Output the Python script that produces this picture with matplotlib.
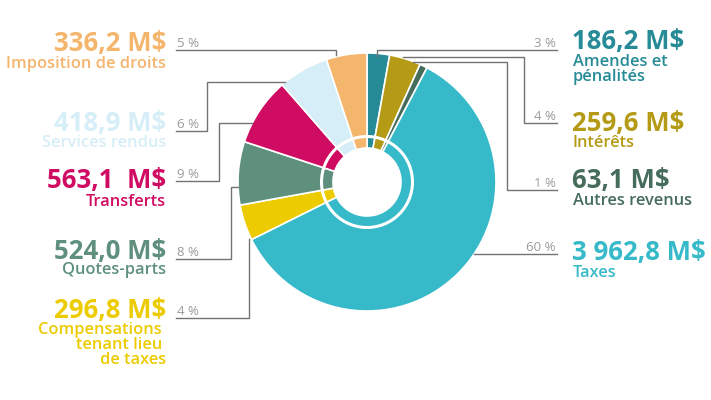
import numpy as np
import matplotlib.pyplot as plt
from matplotlib.patches import Circle

plt.rcParams['font.family'] = ['Open Sans', 'DejaVu Sans']

# data
labels = ['Amendes et\npénalités', 'Intérêts', 'Autres revenus', 'Taxes',
          'Compensations\ntenant lieu\nde taxes', 'Quotes-parts', 'Transferts',
          'Services rendus', 'Imposition de droits']
values = [186.2, 259.6, 63.1, 3962.8, 296.8, 524.0, 563.1, 418.9, 336.2]
amounts = ['186,2 M$', '259,6 M$', '63,1 M$', '3 962,8 M$', '296,8 M$',
           '524,0 M$', '563,1  M$', '418,9 M$', '336,2 M$']
pcts = ['3 %', '4 %', '1 %', '60 %', '4 %', '8 %', '9 %', '6 %', '5 %']
colors = ['#278b97', '#b49a15', '#466c5b', '#36b9c8', '#eccb00',
          '#5e907d', '#cf0b62', '#d6eef7', '#f4b56d']

# layout (pixel coords)
cx, cy, R, r_in = 367, 182, 129, 34
# label side, baseline of amount, baseline(s) of text lines
label_pos = [
    ('R', 49, [66, 81]),
    ('R', 131, [147]),
    ('R', 188, [205]),
    ('R', 260, [277]),
    ('L', 318, [334, 349, 364]),
    ('L', 259, [274]),
    ('L', 188, [206]),
    ('L', 131, [147]),
    ('L', 51, [68]),
]
# leader lines
leaders = [
    [(377, 56), (377, 50), (557, 50)],
    [(403, 57), (524, 57), (524, 123), (557, 123)],
    [(413, 62), (507, 62), (507, 190), (557, 190)],
    [(474, 254), (557, 254)],
    [(249, 239), (249, 318), (176, 318)],
    [(238, 187), (231, 187), (231, 259), (176, 259)],
    [(252, 123), (219, 123), (219, 181), (176, 181)],
    [(285, 82), (207, 82), (207, 131), (176, 131)],
    [(336, 55), (336, 50), (176, 50)],
]

fig = plt.figure(figsize=(7.11, 4.0), dpi=100)
ax = fig.add_axes([0, 0, 1, 1])

ax.pie(values, colors=colors, radius=R, center=(cx, cy), startangle=-90,
       counterclock=True,
       wedgeprops=dict(width=R - r_in, edgecolor='white', linewidth=1.2))
ax.add_patch(Circle((cx, cy), 45.5, fill=False, edgecolor='white', linewidth=2.2))

ax.set_xlim(0, 711)
ax.set_ylim(400, 0)
ax.set_aspect('equal')
ax.axis('off')

for pts in leaders:
    xs, ys = zip(*pts)
    ax.plot(xs, ys, color='#737373', lw=1.0, solid_joinstyle='miter')

for i in range(len(values)):
    side, yb, lines = label_pos[i]
    sub = labels[i].split('\n')
    if side == 'R':
        ax.text(572, yb, amounts[i], color=colors[i], fontsize=18.5, fontweight='bold',
                ha='left', va='baseline')
        for t, y in zip(sub, lines):
            ax.text(573, y, t, color=colors[i], fontsize=11.8, fontweight='semibold',
                    ha='left', va='baseline')
        ax.text(556, leaders[i][-1][1] - 3, pcts[i], color='#9b9b9b', fontsize=9.5,
                ha='right', va='baseline')
    else:
        ax.text(166, yb, amounts[i], color=colors[i], fontsize=18.5, fontweight='bold',
                ha='right', va='baseline')
        for k, (t, y) in enumerate(zip(sub, lines)):
            xoff = 4 if (len(sub) > 1 and k < len(sub) - 1) else 0
            ax.text(166 - xoff, y, t, color=colors[i], fontsize=11.8, fontweight='semibold',
                    ha='right', va='baseline')
        ax.text(177, leaders[i][-1][1] - 3, pcts[i], color='#9b9b9b', fontsize=9.5,
                ha='left', va='baseline')

fig.savefig('out.png', dpi=100)
